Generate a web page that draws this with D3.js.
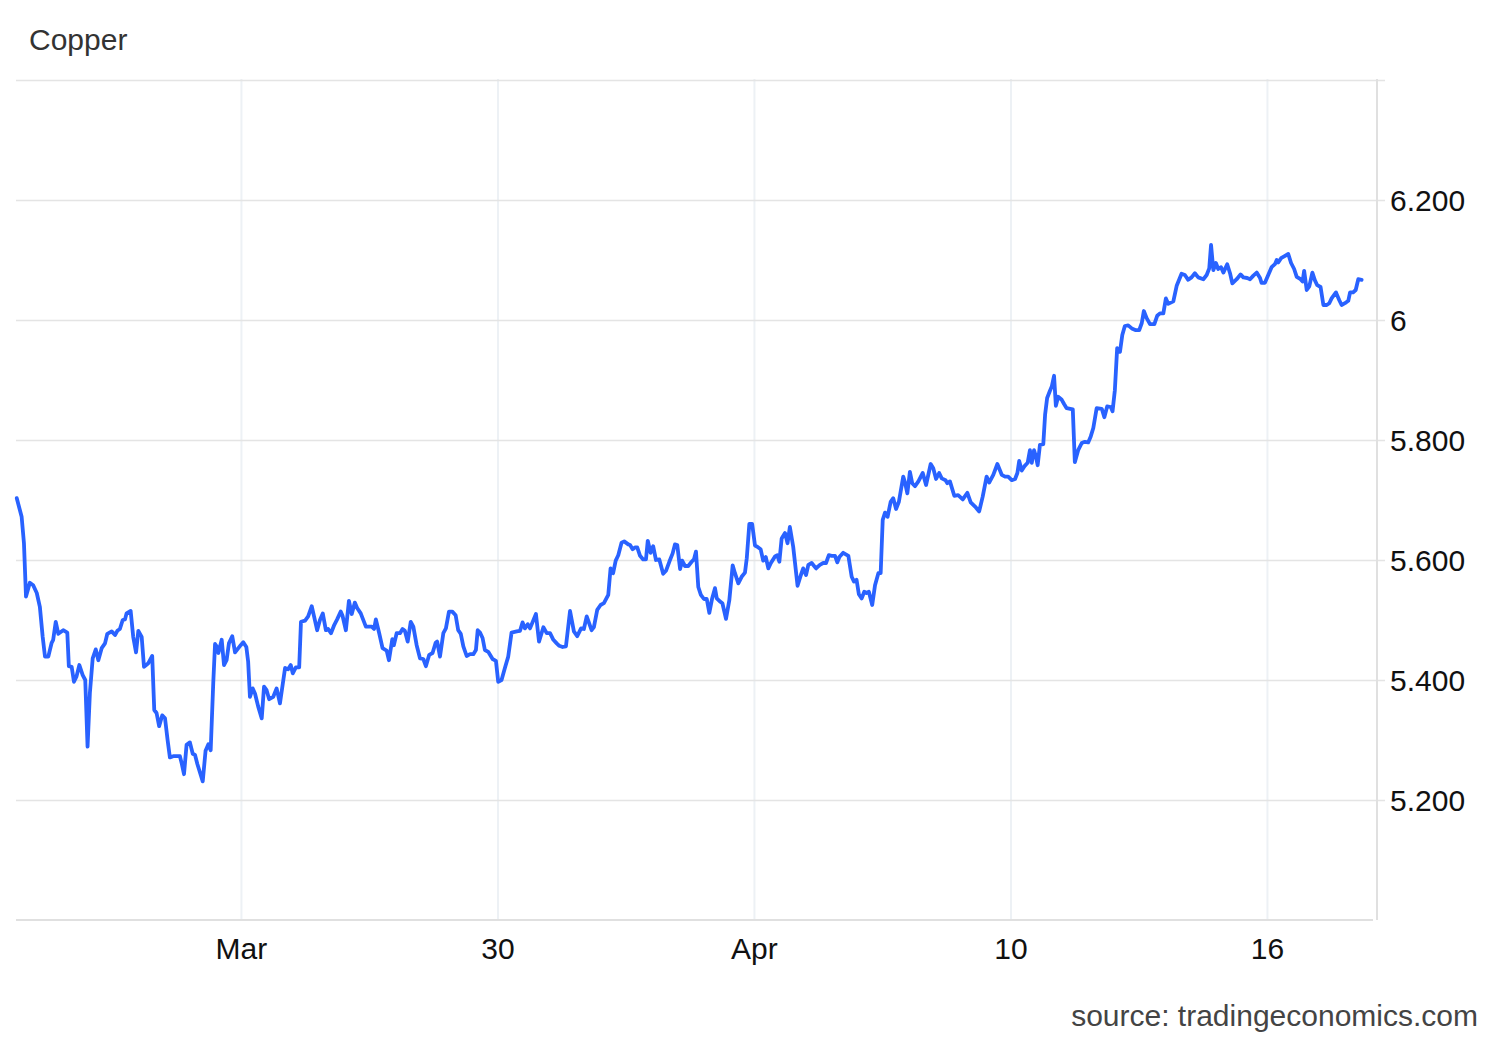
<!DOCTYPE html>
<html><head><meta charset="utf-8">
<script src="https://cdn.jsdelivr.net/npm/d3@7"></script>
<style>
html,body{margin:0;padding:0;background:#fff;}
svg{display:block;font-family:"Liberation Sans", Arial, Helvetica, sans-serif;}
</style></head><body>
<svg id="chart" width="1500" height="1040"></svg>
<script>
const titleText = "Copper";
const sourceText = "source: tradingeconomics.com";
const xTickValues = [1, 2, 3, 4, 5];
const xTickLabels = ["Mar", "30", "Apr", "10", "16"];
const yTickValues = [5.2, 5.4, 5.6, 5.8, 6.0, 6.2];
const yTickLabels = ["5.200", "5.400", "5.600", "5.800", "6", "6.200"];
const yGridValues = [5.2, 5.4, 5.6, 5.8, 6.0, 6.2, 6.4];
const xExtent = [0.123, 5.429];
const yExtent = [5.0, 6.4];

// session time (trading-day units) of each reading
const times = [
0.126,0.145,0.154,0.162,0.177,0.190,0.204,0.216,0.227,0.236,
0.249,0.262,0.268,0.278,0.288,0.307,0.323,0.329,0.340,0.349,
0.359,0.370,0.383,0.393,0.402,0.411,0.422,0.434,0.444,0.457,
0.470,0.479,0.496,0.509,0.518,0.528,0.539,0.548,0.554,0.570,
0.580,0.591,0.600,0.613,0.622,0.639,0.654,0.662,0.671,0.681,
0.693,0.704,0.714,0.723,0.736,0.762,0.769,0.778,0.788,0.801,
0.812,0.821,0.830,0.851,0.862,0.873,0.882,0.892,0.899,0.905,
0.912,0.925,0.934,0.944,0.953,0.966,0.977,0.999,1.009,1.021,
1.028,1.035,1.046,1.055,1.067,1.081,1.090,1.100,1.110,1.126,
1.139,1.152,1.172,1.184,1.194,1.202,1.214,1.227,1.234,1.250,
1.262,1.276,1.285,1.297,1.308,1.319,1.331,1.340,1.351,1.364,
1.375,1.389,1.396,1.409,1.421,1.432,1.444,1.453,1.467,1.487,
1.510,1.519,1.526,1.539,1.552,1.568,1.577,1.590,1.596,1.607,
1.620,1.630,1.639,1.650,1.662,1.672,1.685,1.698,1.711,1.721,
1.734,1.747,1.759,1.765,1.776,1.789,1.799,1.811,1.824,1.837,
1.847,1.857,1.867,1.880,1.893,1.906,1.916,1.923,1.932,1.942,
1.951,1.964,1.981,1.994,2.003,2.016,2.029,2.042,2.055,2.075,
2.088,2.098,2.107,2.118,2.127,2.150,2.162,2.179,2.192,2.205,
2.218,2.231,2.241,2.254,2.267,2.283,2.298,2.311,2.326,2.337,
2.348,2.367,2.376,2.389,2.402,2.415,2.432,2.441,2.451,2.461,
2.471,2.484,2.494,2.510,2.517,2.527,2.536,2.545,2.556,2.568,
2.579,2.586,2.597,2.607,2.618,2.631,2.646,2.657,2.670,2.683,
2.692,2.701,2.712,2.720,2.731,2.744,2.757,2.766,2.774,2.783,
2.793,2.805,2.816,2.826,2.837,2.848,2.855,2.867,2.877,2.891,
2.904,2.917,2.926,2.939,2.952,2.965,2.972,2.982,2.993,3.004,
3.013,3.026,3.036,3.046,3.056,3.066,3.082,3.091,3.099,3.108,
3.121,3.131,3.140,3.153,3.170,3.183,3.192,3.203,3.212,3.225,
3.242,3.257,3.270,3.281,3.292,3.303,3.316,3.325,3.333,3.348,
3.368,3.381,3.390,3.400,3.409,3.420,3.430,3.439,3.448,3.461,
3.472,3.485,3.494,3.502,3.511,3.521,3.533,3.543,3.554,3.565,
3.582,3.589,3.598,3.608,3.617,3.628,3.641,3.658,3.671,3.689,
3.699,3.710,3.722,3.732,3.747,3.754,3.764,3.781,3.796,3.814,
3.832,3.845,3.862,3.878,3.892,3.907,3.917,3.933,3.949,3.966,
3.979,3.991,4.005,4.018,4.027,4.034,4.044,4.054,4.067,4.076,
4.083,4.092,4.099,4.106,4.115,4.128,4.135,4.143,4.154,4.161,
4.170,4.177,4.186,4.200,4.209,4.219,4.243,4.251,4.264,4.278,
4.290,4.303,4.313,4.323,4.336,4.356,4.366,4.377,4.391,4.398,
4.407,4.416,4.427,4.436,4.446,4.459,4.473,4.489,4.502,4.512,
4.520,4.531,4.544,4.561,4.572,4.583,4.596,4.606,4.615,4.635,
4.648,4.667,4.680,4.693,4.706,4.719,4.732,4.752,4.765,4.775,
4.782,4.791,4.801,4.810,4.821,4.830,4.845,4.856,4.865,4.882,
4.897,4.908,4.923,4.934,4.947,4.960,4.973,4.979,4.992,5.005,
5.018,5.031,5.038,5.044,5.055,5.067,5.083,5.094,5.106,5.116,
5.131,5.139,5.145,5.155,5.165,5.177,5.187,5.196,5.209,5.220,
5.233,5.243,5.252,5.269,5.282,5.291,5.304,5.317,5.324,5.336,
5.346,5.356,5.369
];

// copper price, USD/lb
const prices = [
5.703,5.672,5.628,5.539,5.562,5.558,5.545,5.522,5.472,5.439,
5.439,5.462,5.467,5.497,5.477,5.483,5.479,5.423,5.422,5.397,
5.406,5.425,5.408,5.400,5.289,5.378,5.436,5.451,5.433,5.453,
5.461,5.477,5.481,5.475,5.482,5.485,5.500,5.501,5.511,5.515,
5.472,5.446,5.482,5.472,5.422,5.428,5.440,5.350,5.345,5.323,
5.341,5.336,5.300,5.271,5.273,5.273,5.261,5.243,5.292,5.296,
5.277,5.275,5.260,5.231,5.282,5.293,5.283,5.395,5.460,5.456,
5.445,5.467,5.425,5.433,5.461,5.473,5.446,5.458,5.463,5.455,
5.431,5.372,5.386,5.377,5.356,5.336,5.389,5.383,5.368,5.372,
5.386,5.361,5.420,5.418,5.425,5.411,5.421,5.421,5.497,5.499,
5.506,5.523,5.506,5.483,5.500,5.511,5.483,5.485,5.478,5.492,
5.501,5.514,5.507,5.483,5.532,5.510,5.529,5.520,5.511,5.489,
5.489,5.485,5.501,5.478,5.453,5.449,5.433,5.468,5.458,5.478,
5.478,5.485,5.482,5.464,5.497,5.489,5.458,5.436,5.435,5.423,
5.442,5.445,5.462,5.464,5.439,5.478,5.486,5.514,5.514,5.508,
5.483,5.477,5.456,5.440,5.443,5.443,5.450,5.483,5.479,5.470,
5.450,5.447,5.435,5.432,5.397,5.400,5.420,5.439,5.479,5.481,
5.482,5.496,5.486,5.493,5.486,5.510,5.464,5.488,5.478,5.478,
5.467,5.461,5.457,5.455,5.456,5.515,5.481,5.473,5.486,5.485,
5.506,5.483,5.488,5.517,5.525,5.528,5.542,5.586,5.578,5.599,
5.608,5.629,5.631,5.626,5.625,5.618,5.621,5.621,5.607,5.601,
5.601,5.632,5.612,5.623,5.600,5.601,5.577,5.582,5.597,5.611,
5.626,5.625,5.585,5.599,5.590,5.590,5.597,5.601,5.614,5.555,
5.542,5.535,5.535,5.512,5.536,5.553,5.536,5.531,5.528,5.502,
5.533,5.591,5.578,5.561,5.572,5.579,5.603,5.660,5.660,5.624,
5.622,5.618,5.599,5.605,5.586,5.595,5.606,5.608,5.597,5.636,
5.645,5.628,5.655,5.622,5.557,5.575,5.586,5.575,5.592,5.595,
5.586,5.592,5.595,5.595,5.608,5.607,5.607,5.596,5.605,5.612,
5.607,5.572,5.564,5.567,5.543,5.536,5.547,5.545,5.547,5.525,
5.558,5.578,5.578,5.667,5.679,5.672,5.697,5.703,5.685,5.697,
5.739,5.729,5.711,5.747,5.728,5.723,5.731,5.745,5.725,5.760,
5.753,5.735,5.745,5.736,5.733,5.728,5.731,5.707,5.708,5.701,
5.712,5.696,5.689,5.681,5.706,5.739,5.729,5.742,5.760,5.742,
5.739,5.739,5.733,5.735,5.745,5.765,5.749,5.756,5.762,5.783,
5.762,5.783,5.773,5.758,5.792,5.793,5.842,5.870,5.882,5.889,
5.907,5.857,5.872,5.867,5.860,5.853,5.851,5.763,5.783,5.795,
5.797,5.796,5.806,5.820,5.853,5.852,5.838,5.856,5.855,5.848,
5.883,5.953,5.947,5.975,5.990,5.991,5.986,5.983,5.983,5.995,
6.015,6.003,5.993,5.993,6.007,6.011,6.011,6.036,6.027,6.031,
6.057,6.077,6.075,6.067,6.071,6.078,6.071,6.068,6.075,6.086,
6.125,6.083,6.095,6.085,6.088,6.079,6.093,6.078,6.061,6.068,
6.076,6.071,6.070,6.068,6.074,6.079,6.070,6.062,6.062,6.075,
6.088,6.093,6.100,6.096,6.103,6.106,6.110,6.095,6.085,6.072,
6.068,6.064,6.082,6.050,6.056,6.079,6.066,6.058,6.055,6.025,
6.025,6.028,6.036,6.046,6.033,6.025,6.028,6.032,6.046,6.046,
6.050,6.068,6.067
];

const series = times.map((t, i) => ({ t: t, v: prices[i] }));

const plot = { left: 16, right: 1377, top: 80, bottom: 920 };
const FONT = '"Liberation Sans", Arial, sans-serif';
const svg = d3.select("#chart");

const x = d3.scaleLinear().domain(xExtent).range([plot.left, plot.right]);
const y = d3.scaleLinear().domain(yExtent).range([plot.bottom, plot.top]);

// vertical gridlines
const xGrid = svg.append("g")
  .attr("transform", `translate(0,${plot.bottom})`)
  .call(d3.axisBottom(x).tickValues(xTickValues).tickSize(-(plot.bottom - plot.top + 1)).tickFormat(""));
xGrid.select(".domain").remove();
xGrid.selectAll(".tick line").attr("stroke", "#edf1f5").attr("stroke-width", 2);

// horizontal gridlines (extend past the right axis as tick marks)
const gridRight = plot.right + 8;
const yGrid = svg.append("g")
  .attr("transform", `translate(${gridRight},0)`)
  .call(d3.axisLeft(y).tickValues(yGridValues).tickSize(gridRight - plot.left).tickFormat(""));
yGrid.select(".domain").remove();
yGrid.selectAll(".tick line").attr("stroke", "#e4e4e4").attr("stroke-width", 1.6);

// axis lines
svg.append("line")
  .attr("x1", x.range()[0]).attr("x2", x.range()[1] - 4)
  .attr("y1", y(yExtent[0])).attr("y2", y(yExtent[0]))
  .attr("stroke", "#e0e0e0").attr("stroke-width", 2);
svg.append("line")
  .attr("x1", x.range()[1]).attr("x2", x.range()[1])
  .attr("y1", y(yExtent[1]) - 1).attr("y2", y(yExtent[0]))
  .attr("stroke", "#e0e0e0").attr("stroke-width", 2);

// y labels
const yAx = svg.append("g")
  .attr("transform", `translate(${plot.right + 13},0)`)
  .call(d3.axisRight(y).tickValues(yTickValues).tickSize(0).tickPadding(0)
    .tickFormat((d, i) => yTickLabels[i]));
yAx.select(".domain").remove();
yAx.selectAll("text").attr("font-size", 30).attr("fill", "#111")
  .attr("font-family", FONT).attr("dy", "0.34em");

// x labels
const xAx = svg.append("g")
  .attr("transform", `translate(0,${plot.bottom})`)
  .call(d3.axisBottom(x).tickValues(xTickValues).tickSize(0).tickPadding(18)
    .tickFormat((d, i) => xTickLabels[i]));
xAx.select(".domain").remove();
xAx.selectAll("text").attr("font-size", 30).attr("fill", "#111")
  .attr("font-family", FONT);

// price line
const line = d3.line().x(d => x(d.t)).y(d => y(d.v)).curve(d3.curveLinear);
svg.append("path")
  .datum(series)
  .attr("d", line)
  .attr("fill", "none")
  .attr("stroke", "#2962ff")
  .attr("stroke-width", 3.8)
  .attr("stroke-linejoin", "round")
  .attr("stroke-linecap", "round");

// title and source
svg.append("text").attr("x", 29).attr("y", 50).attr("font-family", FONT)
  .attr("font-size", 30).attr("fill", "#333").text(titleText);
svg.append("text").attr("x", 1478).attr("y", 1026).attr("font-family", FONT)
  .attr("text-anchor", "end").attr("font-size", 30).attr("fill", "#444").text(sourceText);
</script>
</body></html>
